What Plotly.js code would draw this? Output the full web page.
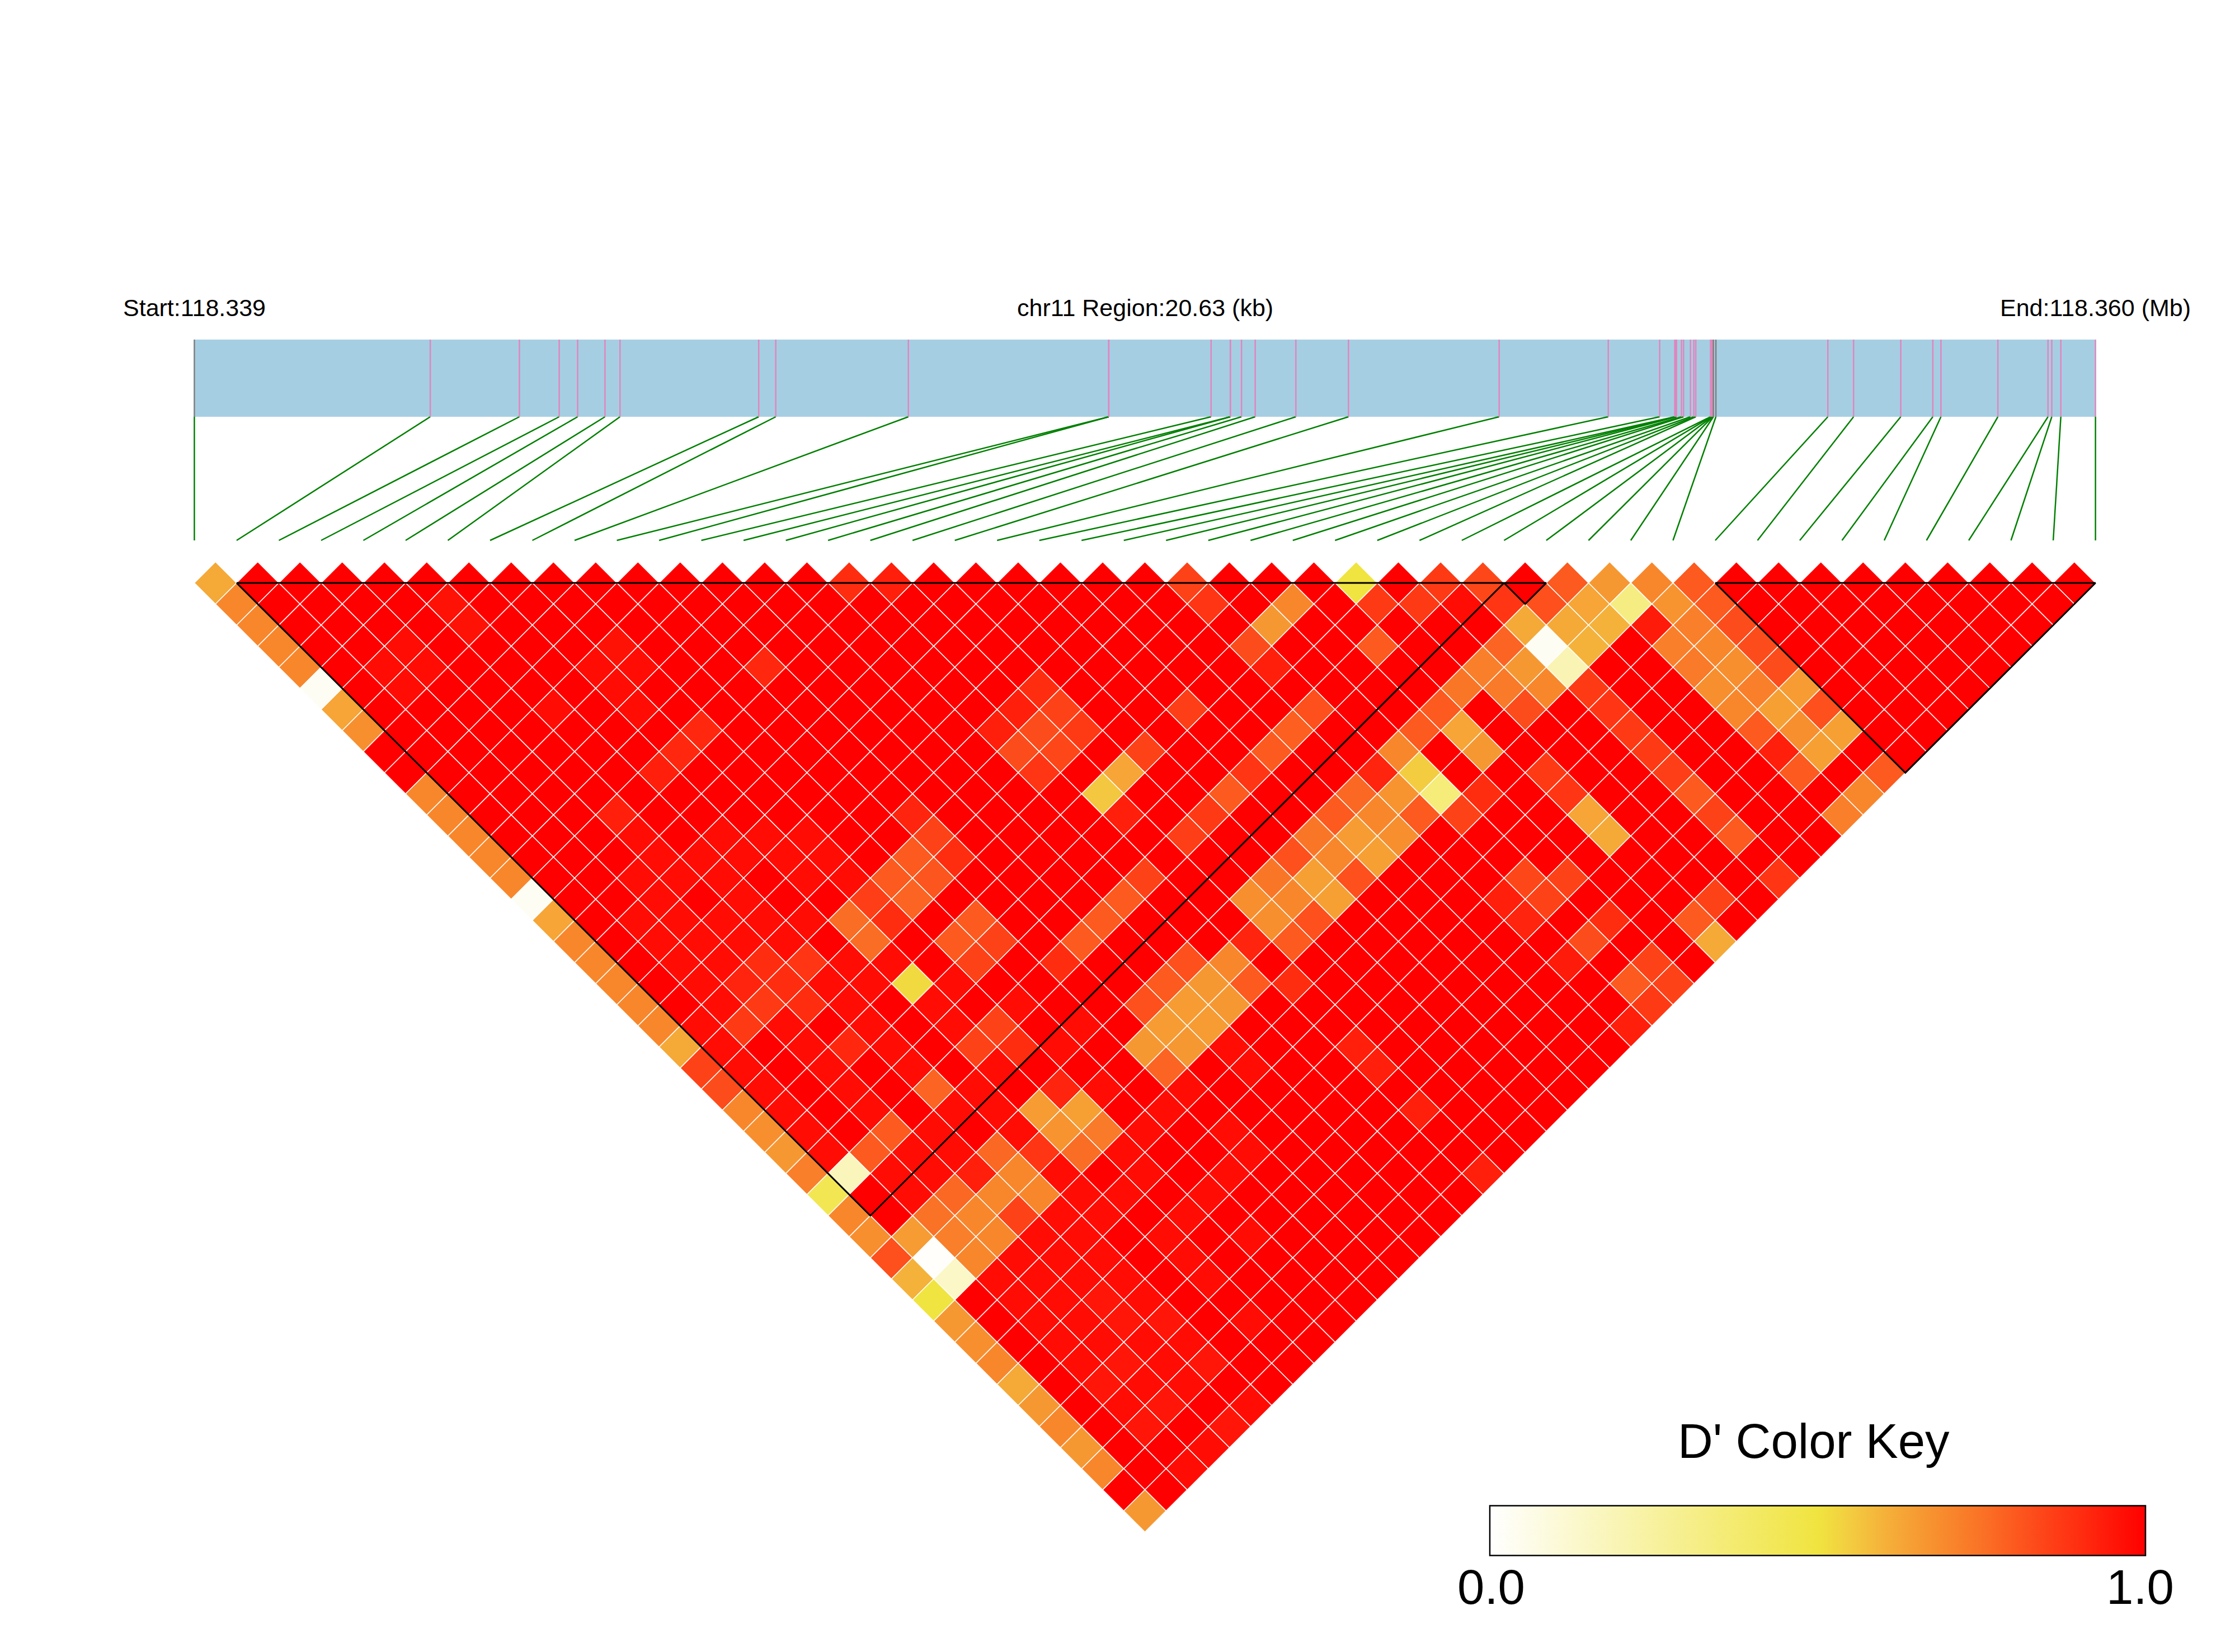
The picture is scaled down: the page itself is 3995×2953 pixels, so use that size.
<!DOCTYPE html>
<html>
<head>
<meta charset="utf-8">
<script src="https://cdn.plot.ly/plotly-3.0.1.min.js"></script>
<style>html,body{margin:0;padding:0;background:#fff}</style>
</head>
<body>
<div id="chart" style="width:3995px;height:2953px"></div>
<script>
// Region and SNP positions along the gene bar (kb from region start)
const regionStart = '118.339';
const regionEnd = '118.360';
const regionKb = 20.63;
const snpKb = [0,2.56,3.527,3.959,4.159,4.456,4.619,6.124,6.309,7.748,9.923,9.923,11.033,11.242,11.242,11.363,11.512,11.953,12.524,14.159,15.343,15.901,16.065,16.073,16.084,16.138,16.16,16.235,16.272,16.293,16.453,16.462,16.471,16.477,16.484,16.511,17.726,18.005,18.517,18.865,18.953,19.571,20.115,20.156,20.254,20.63];
const grayTicks = [0,34,35];

// D' values that differ from 1.0, one list per SNP lag: [index sum of the pair, D']
const lag1=[[1,.62],[31,.9],[33,.93],[47,.85],[55,.5],[59,.87],[61,.84],[65,.8],[67,.66],[69,.7],[71,.8]];
const lag2=[[2,.7],[12,.96],[48,.88],[52,.7],[56,.87],[58,.87],[60,.97],[62,.88],[64,.82],[66,.63],[68,.33],[70,.67],[72,.8]];
const lag3=[[3,.7],[13,.96],[51,.66],[63,.62],[65,.62],[67,.6],[69,.94],[71,.72],[73,.83]];
const lag4=[[4,.7],[10,.97],[20,.96],[50,.83],[56,.8],[62,.78],[64,.03],[66,.6],[70,.72],[72,.7],[74,.83]];
const lag5=[[5,.7],[9,.97],[11,.97],[19,.97],[21,.97],[27,.91],[51,.93],[61,.72],[63,.66],[65,.2],[71,.73],[73,.68],[75,.83]];
const lag6=[[6,.03],[10,.97],[20,.97],[40,.9],[60,.74],[62,.73],[64,.7],[66,.87],[72,.68],[74,.72],[76,.65]];
const lag7=[[7,.63],[17,.97],[21,.97],[39,.93],[41,.85],[47,.86],[53,.82],[59,.8],[63,.83],[67,.88],[73,.7],[75,.64],[77,.82]];
const lag8=[[8,.68],[24,.91],[38,.93],[40,.83],[42,.87],[52,.79],[58,.8],[60,.63],[68,.87],[74,.8],[76,.68],[78,.64]];
const lag9=[[23,.91],[39,.83],[41,.84],[45,.85],[51,.8],[57,.7],[61,.66],[69,.87],[75,.93],[77,.64]];
const lag10=[[22,.93],[40,.88],[44,.63],[50,.88],[56,.92],[58,.55],[64,.87],[70,.86],[76,.8],[80,.8]];
const lag11=[[11,.7],[43,.56],[49,.8],[55,.77],[57,.67],[59,.35],[61,.9],[65,.88],[71,.8],[79,.7]];
const lag12=[[12,.7],[20,.93],[34,.92],[44,.93],[48,.87],[54,.8],[56,.7],[58,.8],[60,.85],[66,.63],[72,.85],[78,.72]];
const lag13=[[13,.7],[35,.85],[47,.86],[53,.74],[55,.65],[57,.68],[67,.62],[73,.8]];
const lag14=[[14,.7],[34,.8],[36,.9],[52,.82],[54,.7],[56,.64]];
const lag15=[[15,.7],[33,.8],[35,.81],[45,.85],[51,.74],[53,.64],[55,.82],[63,.84],[65,.85],[75,.88]];
const lag16=[[16,.03],[32,.86],[34,.78],[44,.8],[50,.68],[52,.7],[54,.64],[62,.93],[64,.85],[72,.85]];
const lag17=[[17,.63],[31,.76],[33,.9],[37,.8],[43,.8],[51,.68],[53,.82],[63,.92],[67,.9],[71,.8]];
const lag18=[[18,.7],[32,.76],[36,.8],[38,.85],[42,.8],[50,.92],[52,.8],[66,.83],[72,.62]];
const lag19=[[19,.7],[27,.9],[29,.88],[37,.85],[41,.9],[47,.82],[49,.7],[65,.94],[69,.85]];
const lag20=[[20,.7],[26,.92],[28,.9],[34,.52],[46,.8],[48,.66],[50,.8],[52,.9],[68,.8],[70,.85]];
const lag21=[[21,.7],[27,.87],[29,.9],[45,.82],[47,.65],[49,.66],[69,.87]];
const lag22=[[22,.7],[26,.87],[38,.85],[46,.65],[48,.65],[68,.93]];
const lag23=[[23,.62],[31,.91],[37,.85],[39,.9],[45,.66],[47,.66],[55,.93]];
const lag24=[[24,.85],[46,.78],[56,.93]];
const lag25=[[25,.83],[35,.78],[41,.92]];
const lag26=[[26,.7],[40,.65],[42,.64],[58,.93]];
const lag27=[[27,.68],[33,.8],[41,.67],[43,.73]];
const lag28=[[28,.66],[32,.8],[38,.77],[40,.88],[42,.76]];
const lag29=[[29,.72],[31,.18],[37,.93],[39,.7],[61,.93]];
const lag30=[[30,.45],[34,.97],[36,.77],[38,.7],[40,.7]];
const lag31=[[31,.7],[35,.75],[37,.7],[39,.85]];
const lag32=[[32,.68],[34,.65],[36,.72],[38,.7]];
const lag33=[[33,.82],[35,.01],[37,.7]];
const lag34=[[34,.6],[36,.15],[38,.97],[40,.97],[42,.97],[44,.97],[48,.97]];
const lag35=[[35,.5],[39,.97],[41,.97],[43,.95],[45,.97]];
const lag36=[[36,.66],[40,.97],[42,.97],[44,.95],[46,.95],[50,.97]];
const lag37=[[37,.68],[41,.97],[43,.97],[45,.97],[47,.97]];
const lag38=[[38,.7],[42,.97],[44,.95],[46,.97],[48,.95]];
const lag39=[[39,.62],[43,.95],[45,.97],[47,.97]];
const lag40=[[40,.66],[44,.97],[46,.95],[50,.97]];
const lag41=[[41,.7],[45,.95],[49,.95]];
const lag42=[[42,.66],[48,.97]];
const lag43=[[43,.7],[47,.97]];
const lag44=[];
const lag45=[[45,.66]];
const lagLists=[lag1,lag2,lag3,lag4,lag5,lag6,lag7,lag8,lag9,lag10,lag11,lag12,lag13,lag14,lag15,lag16,lag17,lag18,lag19,lag20,lag21,lag22,lag23,lag24,lag25,lag26,lag27,lag28,lag29,lag30,lag31,lag32,lag33,lag34,lag35,lag36,lag37,lag38,lag39,lag40,lag41,lag42,lag43,lag44,lag45];

// Cells just under 1.0 (about 0.97): [lag, index sums of the pairs]
const faintLag=[
 [13,[21,25,27,29]],[14,[22,24,26,28,30]],[15,[21,23,25,29,31]],[16,[22,26]],
 [17,[21,23,25,27,29]],[18,[22,24,26,28]],[19,[23,25,31,33]],[20,[24,30,32,36]],
 [21,[25,31,35,39]],[22,[24,28,32,36,42]],[23,[25,29,33,41,49]],[24,[26,30,34,38,50]],
 [25,[27,31,37,43,47]],[26,[28,32,36,38,46]],[27,[29,35,39,45,49]],[28,[30,34,36,44,50]],
 [29,[33,35,41,45,49]],[30,[42,44,48]],[31,[41,43,47]],[32,[40,42,46,50]],[33,[39,41,43,47]]
];

// Haplotype blocks as first and last SNP rank
const blockStart=[1,31,36];
const blockEnd=[31,32,45];

// Page layout (pixels)
const W=3995,H=2953,gridLeft=347.4,gridRight=3745.6,rowZero=1042,rowStep=37.7;
const nSnp=snpKb.length;
const kbPerPx=regionKb/(gridRight-gridLeft);
const gridX=k=>k/(nSnp-1)*regionKb;
const rowOf=px=>(px-rowZero)/rowStep;
const barTop=rowOf(607),barBottom=rowOf(745),linkBottom=rowOf(966);

const colors=[[0,'#FFFFFF'],[.5,'#F0E440'],[.55,'#F3CC40'],[.6,'#F5B23A'],[.65,'#F69C33'],[.7,'#F8872C'],[.75,'#FA7226'],[.8,'#FC5A1F'],[.85,'#FE4218'],[.9,'#FF2D10'],[.95,'#FF1608'],[1,'#FF0000']];

// Cells
const faintMap=new Map(faintLag);
const cx=[],cy=[],cz=[],ctext=[];
for(let d=1;d<nSnp;d++){
  const low=new Map(lagLists[d-1]);
  const faint=faintMap.get(d)||[];
  for(let i=0;i+d<nSnp;i++){
    const j=i+d,s=i+j;
    cx.push((gridX(i)+gridX(j))/2);
    cy.push(d-1);
    cz.push(low.has(s)?low.get(s):(faint.includes(s)?.97:1));
    ctext.push('SNP '+(i+1)+' - SNP '+(j+1));
  }
}
// Bar ticks, links, blocks
const tickX=[],tickY=[],grayX=[],grayY=[],linkX=[],linkY=[];
snpKb.forEach((kb,k)=>{
  const gray=grayTicks.includes(k);
  (gray?grayX:tickX).push(kb,kb,null);
  (gray?grayY:tickY).push(barTop,barBottom,null);
  linkX.push(kb,gridX(k),null);
  linkY.push(barBottom,linkBottom,null);
});
const blockX=[],blockY=[];
blockStart.forEach((a,n)=>{
  const b=blockEnd[n];
  blockX.push(gridX(a),gridX(b),(gridX(a)+gridX(b))/2,gridX(a),null);
  blockY.push(0,0,b-a,0,null);
});

const FONT='"Liberation Sans", Arial, sans-serif';
const traces=[
 {type:'scatter',mode:'lines',x:linkX,y:linkY,line:{color:'#008000',width:2.5},hoverinfo:'skip',showlegend:false},
 {type:'scatter',mode:'lines',x:tickX,y:tickY,line:{color:'#E086BE',width:2.5},hoverinfo:'skip',showlegend:false},
 {type:'scatter',mode:'lines',x:grayX,y:grayY,line:{color:'#808080',width:2.5},hoverinfo:'skip',showlegend:false},
 {type:'scatter',mode:'markers',x:cx,y:cy,text:ctext,showlegend:false,
  marker:{symbol:'diamond',size:58.1,color:cz,cmin:0,cmax:1,colorscale:colors,line:{color:'#FFFFFF',width:1.5},
   colorbar:{orientation:'h',x:(2663+3835)/2/W,xanchor:'center',y:(H-2782.5)/H,yanchor:'bottom',len:(3835-2663)/W,lenmode:'fraction',
    thickness:89,thicknessmode:'pixels',xpad:0,ypad:0,outlinecolor:'#000',outlinewidth:2.5,borderwidth:0,
    tickvals:[0,1],showticklabels:false,ticks:''}}},
 {type:'scatter',mode:'lines',x:blockX,y:blockY,line:{color:'#000',width:3},hoverinfo:'skip',showlegend:false}
];
const smallText={xref:'x',yref:'y',showarrow:false,xanchor:'center',yanchor:'middle',font:{family:FONT,size:43,color:'#000'}};
const keyText={xref:'paper',yref:'paper',showarrow:false,xanchor:'center',yanchor:'middle',font:{family:FONT,size:87,color:'#000'}};
const layout={
 width:W,height:H,margin:{l:0,r:0,t:0,b:0,autoexpand:false},paper_bgcolor:'#fff',plot_bgcolor:'#fff',showlegend:false,hovermode:'closest',
 xaxis:{visible:false,range:[-gridLeft*kbPerPx,(W-gridLeft)*kbPerPx],fixedrange:true},
 yaxis:{visible:false,range:[rowOf(H),rowOf(0)],fixedrange:true},
 shapes:[{type:'rect',layer:'below',xref:'x',yref:'y',x0:0,x1:regionKb,y0:barTop,y1:barBottom,fillcolor:'#A6CEE3',line:{width:0}}],
 annotations:[
  Object.assign({text:'Start:'+regionStart,x:0,y:rowOf(550)},smallText),
  Object.assign({text:'chr11 Region:'+regionKb+' (kb)',x:regionKb/2,y:rowOf(550)},smallText),
  Object.assign({text:'End:'+regionEnd+' (Mb)',x:regionKb,y:rowOf(550)},smallText),
  Object.assign({text:"D' Color Key",x:3242/W,y:(H-2575)/H},keyText),
  Object.assign({text:'0.0',x:2665/W,y:(H-2836)/H},keyText),
  Object.assign({text:'1.0',x:3825/W,y:(H-2836)/H},keyText)
 ]
};
Plotly.newPlot('chart',traces,layout,{displayModeBar:false,responsive:false});
</script>
</body>
</html>
